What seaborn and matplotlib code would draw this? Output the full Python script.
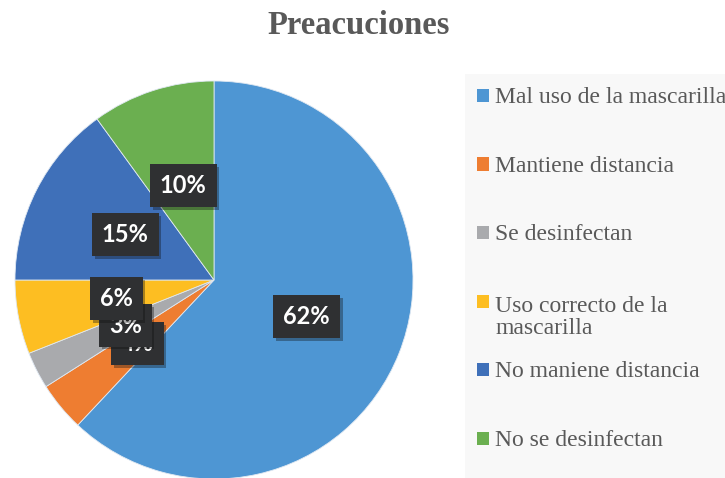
import matplotlib
matplotlib.use("Agg")
import matplotlib.pyplot as plt
import matplotlib.patheffects as pe
from matplotlib.patches import Rectangle
import seaborn as sns

# ---------- datos ----------
categorias = ['Mal uso de la mascarilla', 'Mantiene distancia', 'Se desinfectan',
              'Uso correcto de la\nmascarilla', 'No maniene distancia', 'No se desinfectan']
porcentajes = [62, 4, 3, 6, 15, 10]
colores = ['#4E96D3', '#EE7D31', '#A9AAAD', '#FDBE22', '#3F70B9', '#6BAF50']

sns.set_theme(style='white')
plt.rcParams['font.family'] = ['DejaVu Sans']

W, H = 725, 478
fig = plt.figure(figsize=(W / 100, H / 100), dpi=100)
fig.patch.set_facecolor('white')

# pastel: centro (214, 280) px desde arriba, radio 199 px
cx, cy, r = 214, 280, 199
ax = fig.add_axes([(cx - r) / W, (H - cy - r) / H, 2 * r / W, 2 * r / H])
wedges, textos, autotextos = ax.pie(
    porcentajes, colors=colores, startangle=90, counterclock=False,
    autopct=lambda p: f'{p:.0f}%', pctdistance=0.5,
    wedgeprops=dict(edgecolor='#dfe8f2', linewidth=0.6))
ax.set_xlim(-1, 1); ax.set_ylim(-1, 1)
ax.set_aspect('equal')
ax.axis('off')

for t in autotextos:
    t.set_color('white')
    t.set_fontsize(17)
    t.set_fontweight('bold')
    t.set_family('Lato')
    t.set_bbox(dict(boxstyle='square,pad=0.42', facecolor='#2f3032', edgecolor='none'))
    t.get_bbox_patch().set_path_effects([pe.SimplePatchShadow(offset=(2, -2), alpha=0.35), pe.Normal()])

# titulo
fig.text(0.494, 1 - 25 / H, 'Preacuciones', ha='center', va='center',
         fontsize=23.5, fontweight='bold', color='#595959', family='Liberation Serif')

# leyenda a mano (fondo gris claro)
fig.patches.append(Rectangle((465 / W, 0), 1 - 465 / W, 1 - 74 / H, transform=fig.transFigure,
                             facecolor='#f8f8f8', edgecolor='none', zorder=0))
y0, dy, lh = 95.5, 68.5, 25
for i, (lab, col) in enumerate(zip(categorias, colores)):
    yc = y0 + i * dy
    fig.patches.append(Rectangle((477 / W, 1 - (yc + 6.5) / H), 12 / W, 13 / H,
                                 transform=fig.transFigure, facecolor=col, edgecolor='none', zorder=2))
    # la linea base de matplotlib es la de la ultima linea del texto
    nl = lab.count('\n')
    fig.text(495 / W, 1 - (yc + 7.5 + nl * lh) / H, lab, ha='left', va='baseline', fontsize=17,
             color='#595959', family='Liberation Serif', linespacing=1.06)

fig.savefig('out.png', dpi=100)
